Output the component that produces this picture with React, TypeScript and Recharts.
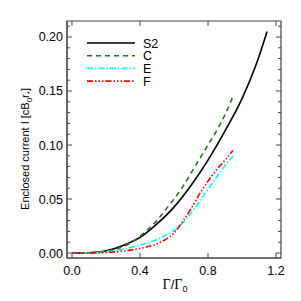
import React from "react";
import { LineChart, Line, XAxis, YAxis, ReferenceArea } from "recharts";

const s2Data = [
  { x: 0, y: 0 }, { x: 0.1, y: 0.0003 }, { x: 0.2, y: 0.002 }, { x: 0.3, y: 0.007 },
  { x: 0.4, y: 0.0145 }, { x: 0.5, y: 0.027 }, { x: 0.6, y: 0.0425 }, { x: 0.7, y: 0.0625 },
  { x: 0.8, y: 0.086 }, { x: 0.9, y: 0.113 }, { x: 1.0, y: 0.143 }, { x: 1.1, y: 0.182 },
  { x: 1.147, y: 0.205 },
];
const cData = [
  { x: 0, y: 0 }, { x: 0.1, y: 0.0001 }, { x: 0.2, y: 0.0015 }, { x: 0.3, y: 0.006 },
  { x: 0.35, y: 0.010 }, { x: 0.4, y: 0.0155 }, { x: 0.45, y: 0.0225 }, { x: 0.5, y: 0.030 },
  { x: 0.55, y: 0.040 }, { x: 0.6, y: 0.050 }, { x: 0.65, y: 0.061 }, { x: 0.7, y: 0.074 },
  { x: 0.75, y: 0.087 }, { x: 0.8, y: 0.100 }, { x: 0.85, y: 0.113 }, { x: 0.9, y: 0.128 },
  { x: 0.947, y: 0.145 },
];
const eData = [
  { x: 0, y: 0 }, { x: 0.1, y: 0.0002 }, { x: 0.2, y: 0.0012 }, { x: 0.3, y: 0.0035 },
  { x: 0.4, y: 0.0074 }, { x: 0.45, y: 0.0095 }, { x: 0.5, y: 0.0125 }, { x: 0.55, y: 0.0163 },
  { x: 0.6, y: 0.021 }, { x: 0.65, y: 0.0275 }, { x: 0.7, y: 0.037 }, { x: 0.75, y: 0.048 },
  { x: 0.8, y: 0.059 }, { x: 0.85, y: 0.070 }, { x: 0.9, y: 0.081 }, { x: 0.95, y: 0.090 },
];
const fData = [
  { x: 0, y: 0 }, { x: 0.1, y: 0.0001 }, { x: 0.2, y: 0.0005 }, { x: 0.3, y: 0.0018 },
  { x: 0.4, y: 0.0043 }, { x: 0.45, y: 0.006 }, { x: 0.5, y: 0.0085 }, { x: 0.55, y: 0.0125 },
  { x: 0.6, y: 0.0185 }, { x: 0.65, y: 0.029 }, { x: 0.7, y: 0.041 }, { x: 0.75, y: 0.0545 },
  { x: 0.8, y: 0.0665 }, { x: 0.85, y: 0.077 }, { x: 0.9, y: 0.086 }, { x: 0.947, y: 0.095 },
];

const xTicks = [0, 0.4, 0.8, 1.2];
const yTicks = [
  0, 0.01, 0.02, 0.03, 0.04, 0.05, 0.06, 0.07, 0.08, 0.09, 0.1,
  0.11, 0.12, 0.13, 0.14, 0.15, 0.16, 0.17, 0.18, 0.19, 0.2, 0.21,
];
const yMajor = [0, 0.05, 0.1, 0.15, 0.2];

const series = [
  { name: "S2", data: s2Data, color: "#000000", dash: undefined as string | undefined },
  { name: "C", data: cData, color: "#1e7a1e", dash: "5 4" },
  { name: "E", data: eData, color: "#00ffff", dash: "6 2 1.5 2" },
  { name: "F", data: fData, color: "#ff0000", dash: "6 2 1.5 2 1.5 2 1.5 2" },
];

const X_DOMAIN: [number, number] = [-0.0294, 1.2294];
const Y_DOMAIN: [number, number] = [-0.0046, 0.2148];
const PLOT_W = 214;
const PLOT_H = 237;
const AXIS = "#444444";
const FONT = "'Liberation Sans', Arial, sans-serif";

const XTick = (props: any) => {
  const { x, y, payload } = props;
  return (
    <g>
      <path d={`M${x},${y}V${y - 5}M${x},${y - PLOT_H}V${y - PLOT_H + 5}`} stroke={AXIS} strokeWidth={1} fill="none" />
      <text x={x} y={y + 17} textAnchor="middle" fontSize={12.5} fontFamily={FONT} fill="#000">
        {Number(payload.value).toFixed(1)}
      </text>
    </g>
  );
};

const YTick = (props: any) => {
  const { x, y, payload } = props;
  const v = Number(payload.value);
  const major = yMajor.some((m) => Math.abs(m - v) < 1e-6);
  const len = major ? 5 : 3;
  return (
    <g>
      <path d={`M${x},${y}H${x + len}M${x + PLOT_W},${y}H${x + PLOT_W - len}`} stroke={AXIS} strokeWidth={1} fill="none" />
      {major && (
        <text x={x - 4} y={y + 4.5} textAnchor="end" fontSize={12.5} fontFamily={FONT} fill="#000">
          {v.toFixed(2)}
        </text>
      )}
    </g>
  );
};

const YLabel = () => (
  <text
    transform="translate(29,149) rotate(-90)"
    textAnchor="middle"
    fontSize={11}
    fontFamily={FONT}
    fill="#000"
  >
    Enclosed current I [cB
    <tspan fontSize={8} dy={3}>0</tspan>
    <tspan dy={-3}>r</tspan>
    <tspan fontSize={8} dy={3}>*</tspan>
    <tspan dy={-3}>]</tspan>
  </text>
);

const XLabel = () => (
  <text x={175} y={289} textAnchor="middle" fontSize={14} fontFamily="'Liberation Serif', serif" fill="#000">
    Γ<tspan fontFamily={FONT} fontSize={13}>/</tspan>Γ
    <tspan fontFamily={FONT} fontSize={9} dy={3}>0</tspan>
  </text>
);

export default function App() {
  return (
    <div style={{ position: "fixed", left: 0, top: 0, width: 301, height: 301, background: "#fff" }}>
      <LineChart width={301} height={301} margin={{ top: 21, right: 20, bottom: 0, left: 0 }}>
        <XAxis
          dataKey="x"
          type="number"
          domain={X_DOMAIN}
          allowDataOverflow
          ticks={xTicks}
          interval={0}
          tickLine={false}
          tickSize={0}
          tickMargin={0}
          axisLine={{ stroke: AXIS }}
          height={43}
          tick={<XTick />}
          label={<XLabel />}
        />
        <YAxis
          type="number"
          domain={Y_DOMAIN}
          allowDataOverflow
          ticks={yTicks}
          interval={0}
          tickLine={false}
          tickSize={0}
          tickMargin={0}
          axisLine={{ stroke: AXIS }}
          width={67}
          tick={<YTick />}
          label={<YLabel />}
        />
        <ReferenceArea
          x1={X_DOMAIN[0]}
          x2={X_DOMAIN[1]}
          y1={Y_DOMAIN[0]}
          y2={Y_DOMAIN[1]}
          fill="none"
          fillOpacity={0}
          stroke={AXIS}
          strokeOpacity={1}
          strokeWidth={1.2}
          ifOverflow="visible"
        />
        {series.map((s) => (
          <Line
            key={s.name}
            data={s.data}
            dataKey="y"
            name={s.name}
            type="monotone"
            stroke={s.color}
            strokeWidth={1.6}
            strokeDasharray={s.dash}
            dot={false}
            isAnimationActive={false}
          />
        ))}
      </LineChart>
      <svg width={80} height={60} style={{ position: "absolute", left: 87, top: 37, overflow: "visible" }}>
        {series.map((s, i) => (
          <g key={s.name}>
            <line
              x1={0}
              y1={6 + i * 12.7}
              x2={48}
              y2={6 + i * 12.7}
              stroke={s.color}
              strokeWidth={1.6}
              strokeDasharray={s.dash}
            />
            <text x={56} y={6 + i * 12.7 + 4.5} fontSize={12.5} fontFamily={FONT} fill="#000">
              {s.name}
            </text>
          </g>
        ))}
      </svg>
    </div>
  );
}
